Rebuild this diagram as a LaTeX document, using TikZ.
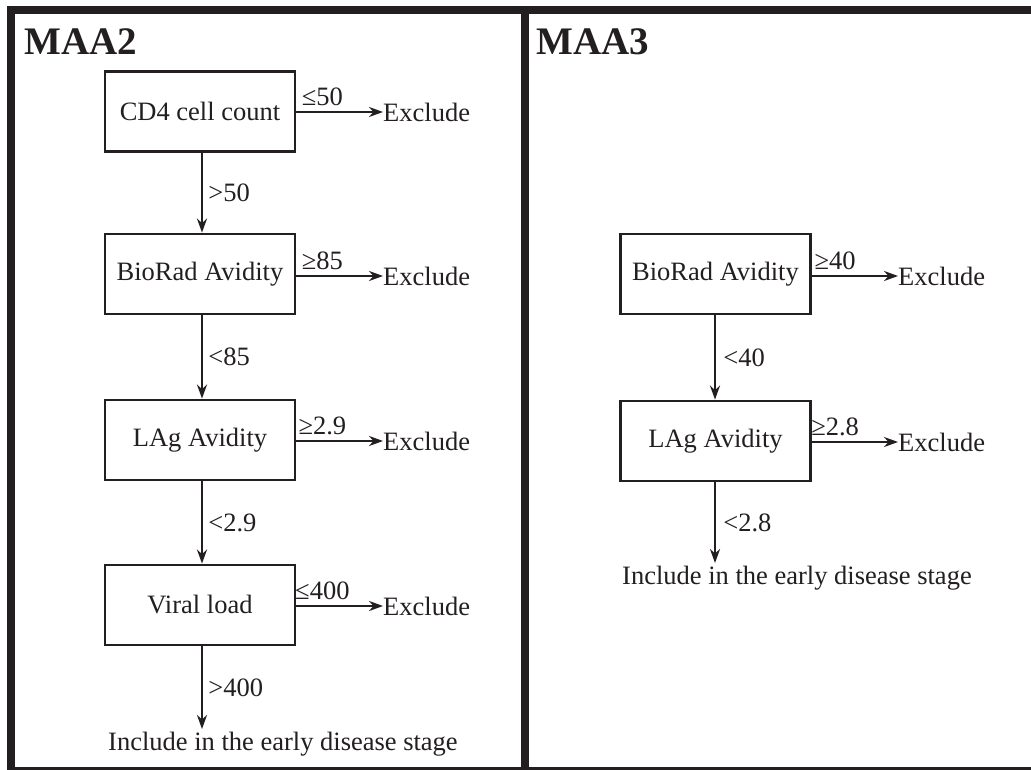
\documentclass[tikz,border=0pt]{standalone}
\usepackage{fontspec}
\setmainfont{Liberation Serif}
\usetikzlibrary{arrows.meta}
\definecolor{ink}{HTML}{231F20}
\tikzset{
  stepbox/.style={draw=ink, line width=2.8pt, minimum width=190pt, minimum height=80pt, inner sep=0pt, font=\fontsize{26.5}{30}\selectfont, text=ink},
  conn/.style={draw=ink, line width=2.8pt, -{Stealth[length=14pt,width=10pt]}},
  lbl/.style={font=\fontsize{26.5}{30}\selectfont, text=ink, inner sep=0pt},
  title/.style={font=\fontsize{39}{44}\selectfont\bfseries, text=ink, inner sep=0pt, anchor=base west},
  bar/.style={fill=ink, draw=none}
}
\begin{document}
\begin{tikzpicture}[x=1pt,y=-1pt]
\useasboundingbox (0,0) rectangle (1031,770);
\fill[white] (0,0) rectangle (1031,770);
% frame
\fill[bar] (7,6) rectangle (1031,14);
\fill[bar] (7,6) rectangle (15,770);
\fill[bar] (521,6) rectangle (529,770);
\fill[bar] (7,767) rectangle (1031,770);
% titles
\node[title] (t2) at (24,55) {MAA2};
\node[title] (t3) at (536,55) {MAA3};
% left panel
\node[stepbox] (cd4) at (200,111.5) {CD4 cell count};
\node[stepbox] (bio) at (200,274) {BioRad Avidity};
\node[stepbox] (lag) at (200,440) {LAg Avidity};
\node[stepbox] (vir) at (200,605) {Viral load};
\node[lbl, anchor=west] (x1) at (383,112) {Exclude};
\node[lbl, anchor=west] (x2) at (383,276) {Exclude};
\node[lbl, anchor=west] (x3) at (383,441) {Exclude};
\node[lbl, anchor=west] (x4) at (383,606) {Exclude};
\node[lbl, anchor=base west] (inc2) at (108,750) {Include in the early disease stage};
\coordinate (e2) at (202,729);
\draw[conn] (cd4.east |- x1.west) -- node[lbl, above, pos=0.3, yshift=5pt] {≤50} (x1.west);
\draw[conn] (bio.east |- x2.west) -- node[lbl, above, pos=0.3, yshift=5pt] {≥85} (x2.west);
\draw[conn] (lag.east |- x3.west) -- node[lbl, above, pos=0.3, yshift=5pt] {≥2.9} (x3.west);
\draw[conn] (vir.east |- x4.west) -- node[lbl, above, pos=0.3, yshift=5pt] {≤400} (x4.west);
\draw[conn] (cd4.south -| e2) -- node[lbl, right, xshift=5pt] {>50} (bio.north -| e2);
\draw[conn] (bio.south -| e2) -- node[lbl, right, xshift=5pt] {<85} (lag.north -| e2);
\draw[conn] (lag.south -| e2) -- node[lbl, right, xshift=5pt] {<2.9} (vir.north -| e2);
\draw[conn] (vir.south -| e2) -- node[lbl, right, xshift=5pt] {>400} (e2);
% right panel
\node[stepbox] (bio3) at (715.5,274) {BioRad Avidity};
\node[stepbox] (lag3) at (715.5,441) {LAg Avidity};
\node[lbl, anchor=west] (y1) at (898,276) {Exclude};
\node[lbl, anchor=west] (y2) at (898,442) {Exclude};
\node[lbl, anchor=base west] (inc3) at (622,584) {Include in the early disease stage};
\coordinate (e3) at (715,563);
\draw[conn] (bio3.east |- y1.west) -- node[lbl, above, pos=0.27, yshift=5pt] {≥40} (y1.west);
\draw[conn] (lag3.east |- y2.west) -- node[lbl, above, pos=0.27, yshift=5pt] {≥2.8} (y2.west);
\draw[conn] (bio3.south -| e3) -- node[lbl, right, xshift=7pt] {<40} (lag3.north -| e3);
\draw[conn] (lag3.south -| e3) -- node[lbl, right, xshift=7pt] {<2.8} (e3);
\end{tikzpicture}
\end{document}
